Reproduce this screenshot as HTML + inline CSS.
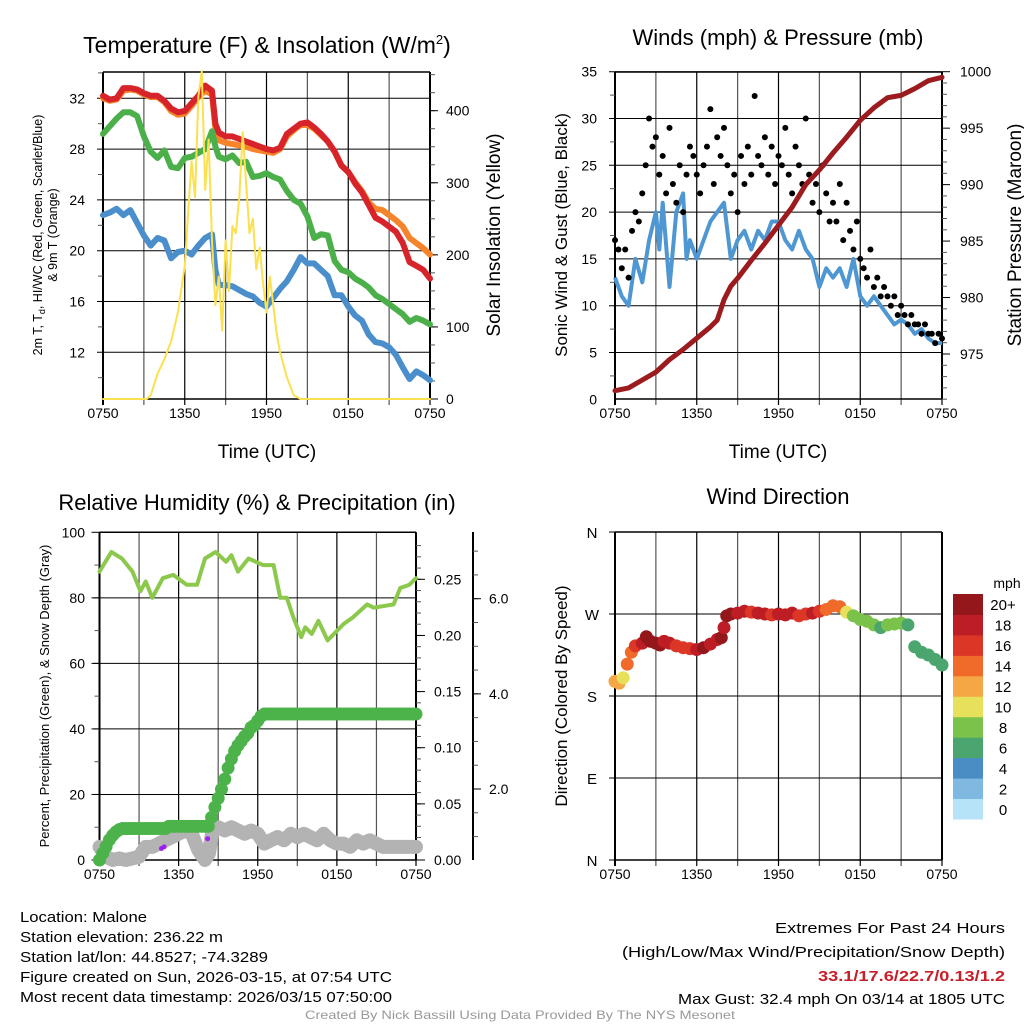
<!DOCTYPE html>
<html><head><meta charset="utf-8"><style>
html,body{margin:0;padding:0;background:#fff;}
svg{display:block;font-family:"Liberation Sans",sans-serif;}
</style></head><body>
<svg id="c" width="1024" height="1024" viewBox="0 0 1024 1024" xmlns="http://www.w3.org/2000/svg">
<rect width="1024" height="1024" fill="#fff"/>
<g id="p1"></g>
<g id="p2"></g>
<g id="p3"></g>
<g id="p4"></g>
<g font-size="15" fill="#000">
<text x="20" y="922" textLength="127" lengthAdjust="spacingAndGlyphs">Location: Malone</text>
<text x="20" y="942" textLength="203" lengthAdjust="spacingAndGlyphs">Station elevation: 236.22 m</text>
<text x="20" y="962" textLength="248" lengthAdjust="spacingAndGlyphs">Station lat/lon: 44.8527; -74.3289</text>
<text x="20" y="982" textLength="372" lengthAdjust="spacingAndGlyphs">Figure created on Sun, 2026-03-15, at 07:54 UTC</text>
<text x="20" y="1002" textLength="372" lengthAdjust="spacingAndGlyphs">Most recent data timestamp: 2026/03/15 07:50:00</text>
</g>
<g font-size="15" fill="#000">
<text x="775" y="933" textLength="230" lengthAdjust="spacingAndGlyphs">Extremes For Past 24 Hours</text>
<text x="622" y="957" textLength="383" lengthAdjust="spacingAndGlyphs">(High/Low/Max Wind/Precipitation/Snow Depth)</text>
<text x="818" y="981" textLength="187" lengthAdjust="spacingAndGlyphs" fill="#c8202a" font-weight="bold">33.1/17.6/22.7/0.13/1.2</text>
<text x="678" y="1004" textLength="327" lengthAdjust="spacingAndGlyphs">Max Gust: 32.4 mph On 03/14 at 1805 UTC</text>
</g>
<text x="305" y="1019" font-size="12" fill="#999" textLength="430" lengthAdjust="spacingAndGlyphs">Created By Nick Bassill Using Data Provided By The NYS Mesonet</text>
</svg>
<script>
// ---------- data ----------
const tempTimes = [0,0.5,1,1.5,2,2.5,3,3.5,4,4.5,5,5.5,6,6.5,7,7.5,8,8.25,8.5,9,9.5,10,10.5,11,11.5,12,12.5,13,13.5,14,14.5,15,15.5,16,16.5,17,17.5,18,18.5,19,19.5,20,20.5,21,21.5,22,22.5,23,23.5,24];
const tempRed = [32.2,31.9,32.0,32.8,32.8,32.7,32.4,32.2,32.2,31.8,31.2,30.9,31.0,31.6,32.2,33.0,32.6,30.0,29.3,29.0,29.0,28.8,28.6,28.4,28.2,28.0,27.9,28.1,29.2,29.6,30.0,30.1,29.7,29.2,28.6,27.8,26.7,26.2,25.3,24.6,23.6,22.6,22.3,21.9,21.5,20.6,19.1,18.8,18.5,17.8];
const tempOrange = [32.0,31.8,31.9,32.6,32.7,32.6,32.3,32.1,32.1,31.7,31.0,30.7,30.8,31.4,32.1,32.6,32.3,29.6,28.7,28.5,28.4,28.3,28.2,28.0,27.9,27.8,27.7,28.0,29.0,29.5,29.9,29.9,29.6,29.1,28.6,27.8,26.7,26.2,25.4,24.7,23.8,23.3,23.2,22.8,22.4,21.9,21.0,20.6,20.2,19.7];
const tempGreen = [29.2,29.8,30.4,30.9,30.9,30.6,29.0,27.8,27.3,27.9,26.6,26.5,27.3,27.4,27.7,28.0,29.4,28.2,27.4,27.2,27.5,26.9,27.0,25.8,25.9,26.1,25.8,25.6,24.7,24.0,23.7,22.7,21.0,21.3,21.2,19.2,18.5,18.3,17.8,17.5,17.1,16.5,16.2,15.8,15.4,15.0,14.4,14.7,14.5,14.2];
const tempBlue = [22.8,23.0,23.3,22.8,23.2,22.2,21.2,20.4,21.0,20.8,19.4,19.9,20.0,19.7,20.4,21.0,21.3,18.5,17.3,17.3,17.2,16.9,16.6,16.4,15.9,15.6,16.3,17.0,17.6,18.5,19.5,19.0,19.0,18.5,18.0,16.5,16.5,15.6,14.9,14.5,13.4,12.8,12.7,12.4,11.8,10.8,9.9,10.5,10.2,9.8];
const solarTimes = [0,3.2,3.5,4,4.5,5,5.5,6,6.25,6.5,6.75,7,7.25,7.5,7.75,8,8.25,8.5,8.75,9,9.25,9.5,9.75,10,10.25,10.5,10.75,11,11.25,11.5,11.75,12,12.25,12.5,12.75,13,13.5,14,14.5,24];
const solarVals = [0,0,5,35,55,80,120,185,260,330,280,420,455,290,360,220,130,170,95,220,150,240,230,280,370,300,230,250,180,210,160,120,170,130,90,65,30,5,0,0];
const tempTicks = [12,16,20,24,28,32];
const solarTicks = [0,100,200,300,400];
const timeLabels = ["0750","1350","1950","0150","0750"];

const windTimes = [0,0.5,1,1.5,2,2.5,3,3.25,3.5,4,4.5,5,5.25,5.5,6,6.5,7,7.5,8,8.5,9,9.5,10,10.5,11,11.5,12,12.5,13,13.5,14,14.5,15,15.5,16,16.5,17,17.5,18,18.5,19,19.5,20,20.5,21,21.5,22,22.5,23,23.5,24];
const windVals = [13,11,10,15,12.5,17,20,16,21,12,20,22,15,17,15,17,19,20,21,15,17,18,16,18,17,19,19,17,16,18,16,15,12,14,13,14,12,15,11,10,11,10,9,8,8.5,8,7,7.5,6.5,6,6];
const gustVals = [17,16,14,16,13,18,20,19,22, 25,30,27,28,24,26,22,29, 23,21,25,20,24,27,26,24, 22,25,27,31,23,28,26,29, 25,22,24,20,26,23,27,24, 32.4,26,25,28,24,27,23,26, 25,29,24,22,27,25,23,30, 24,21,23,20,25,22,19,21, 19,23,17,21,18,16,19,15, 14,13,16,12,13,11,12,11, 10,11,9,10,9,8,9,8, 8,7,8,7,7,6,7,6.5];
const presTimes = [0,1,2,3,4,5,6,7,7.5,8,8.5,9,10,11,12,13,14,15,16,17,18,19,20,21,22,23,24];
const presVals = [971.75,972.0,972.7,973.4,974.5,975.4,976.4,977.4,978.0,979.8,981.0,981.7,983.3,984.8,986.4,988.0,990.0,991.3,992.8,994.2,995.7,996.8,997.7,997.9,998.5,999.2,999.5];
const windTicks = [0,5,10,15,20,25,30,35];
const presTicks = [975,980,985,990,995,1000];

const rhTimes = [0,0.9,1.7,2.5,3.1,3.5,4.0,4.8,5.6,6.6,7.4,8.0,8.8,9.6,10.0,10.5,11.3,12.4,13.2,13.7,14.2,14.7,15.3,15.6,16.1,16.6,17.3,18.5,19.2,20.3,20.8,22.3,22.8,23.5,24];
const rhVals = [88,94,92,88,82,85,80,86,87,84,84,92,94,91,93,88,92,90,90,80,80,74,68,71,69,73,67,72,74,78,77,78,83,84,86];
const precipTimes = [0,0.25,0.5,0.75,1,1.25,1.5,1.75,2,2.25,2.5,2.75,3,3.25,3.5,3.75,4,4.25,4.5,4.75,5,5.25,5.5,5.75,6,6.25,6.5,6.75,7,7.25,7.5,7.75,8,8.25,8.5,8.75,9,9.25,9.5,9.75,10,10.25,10.5,10.75,11,11.25,11.5,11.75,12,12.25,12.5,12.75,13,13.25,13.5,13.75,14,14.25,14.5,14.75,15,15.25,15.5,15.75,16,16.25,16.5,16.75,17,17.25,17.5,17.75,18,18.25,18.5,18.75,19,19.25,19.5,19.75,20,20.25,20.5,20.75,21,21.25,21.5,21.75,22,22.25,22.5,22.75,23,23.25,23.5,23.75,24];
const precipVals = [0,0.006,0.012,0.018,0.022,0.025,0.027,0.028,0.028,0.028,0.028,0.028,0.028,0.028,0.028,0.028,0.028,0.028,0.028,0.028,0.028,0.030,0.030,0.030,0.030,0.030,0.030,0.030,0.030,0.030,0.030,0.030,0.030,0.030,0.038,0.047,0.055,0.063,0.072,0.082,0.090,0.097,0.102,0.106,0.110,0.113,0.118,0.120,0.124,0.128,0.130,0.130,0.130,0.130,0.130,0.130,0.130,0.130,0.130,0.130,0.130,0.130,0.130,0.130,0.130,0.130,0.130,0.130,0.130,0.130,0.130,0.130,0.130,0.130,0.130,0.130,0.130,0.130,0.130,0.130,0.130,0.130,0.130,0.130,0.130,0.130,0.130,0.130,0.130,0.130,0.130,0.130,0.130,0.130,0.130,0.130,0.130];
const snowTimes = [0,0.5,1,1.5,2,2.5,3,3.5,4,4.5,5,5.5,6,6.5,7,7.5,8,8.3,8.6,9,9.5,10,10.5,11,11.5,12,12.5,13,13.5,14,14.5,15,15.5,16,16.5,17,17.5,18,18.5,19,19.5,20,20.5,21,21.5,22,22.5,23,23.5,24];
const snowVals = [4,1,0,0.5,0,0.5,1,4,4,5,6,7,8,9,8,3,0,2,10,10,9,10,9,8,9,8,5,6,7,6,8,7,8,7,6,8,6,5,5,4,6,5,6,5,4,4,4,4,4,4];
const purpleTimes = [4.7,4.9,8.2];
const purpleVals = [3.5,4,6.5];
const rhTicks = [0,20,40,60,80,100];
const precipTicks = [0,0.05,0.10,0.15,0.20,0.25];
const snowTicks = [2,4,6];

const dirTimes = [0,0.3,0.6,0.9,1.2,1.5,2,2.3,2.6,3,3.3,3.6,4,4.5,5,5.5,6,6.5,7,7.5,7.8,8,8.2,8.5,9,9.5,10,10.5,11,11.5,12,12.5,13,13.5,14,14.5,15,15.5,16,16.5,17,17.5,18,18.5,19,19.5,20,20.5,21,21.5,22,22.5,23,23.5,24];
const dirVals = [196,194,200,215,228,235,238,245,240,238,236,240,238,235,233,232,231,233,237,242,244,255,268,270,271,273,272,271,270,269,270,269,271,268,270,271,273,275,279,278,272,268,264,262,258,255,258,259,260,258,234,228,225,220,214];
const dirSpeeds = [12,12,10,14,15,16,19,21,20,20,21,18,19,17,17,16,18,21,19,19,20,18,21,20,18,19,17,19,18,17,19,18,18,17,17,18,16,15,15,14,10,9,9,8,8,7,8,8,8,7,6,6,6,6,6];
const dirTicks = ["N","E","S","W","N"];
const cbLabels = ["0","2","4","6","8","10","12","14","16","18","20+"];
const cbColors = ["#b6e3f7","#7fb9e1","#4a8cc4","#4aa56f","#7bc24a","#e6e05a","#f5a745","#f06a2a","#dc3627","#bd1d24","#93171b"];

// ---------- helpers ----------
const NS="http://www.w3.org/2000/svg";
function mk(parent,tag,attrs,txt){const e=document.createElementNS(NS,tag);for(const k in attrs)e.setAttribute(k,attrs[k]);if(txt!==undefined)e.textContent=txt;parent.appendChild(e);return e;}
function lin(d0,d1,r0,r1){return v=>r0+(v-d0)*(r1-r0)/(d1-d0);}
function pts(ts,vs,sx,sy){return ts.map((t,i)=>sx(t).toFixed(1)+","+sy(vs[i]).toFixed(1)).join(" ");}

function frame(g,x0,x1,y0,y1,hGrid){
  for(let h=0;h<=24;h+=3){const x=x0+(x1-x0)*h/24;
    const l=mk(g,'line',{x1:x,x2:x,y1:y0,y2:y1+6,stroke:(h%6?'#555':'#000'),'stroke-width':h===0?2:1.2});
    }
  hGrid.forEach(y=>{const l=mk(g,'line',{x1:x0-6,x2:x1,y1:y,y2:y,stroke:'#000','stroke-width':1});
    });
  timeLabels.forEach((s,i)=>{const x=x0+(x1-x0)*i/4;
    const t=mk(g,'text',{x:x,y:y1+19,'font-size':14,'text-anchor':'middle'},s);
    });
  mk(g,'line',{x1:x0,x2:x0,y1:y0,y2:y1,stroke:'#000','stroke-width':2});
  mk(g,'line',{x1:x1,x2:x1,y1:y0,y2:y1,stroke:'#000','stroke-width':2});
  mk(g,'line',{x1:x0,x2:x1,y1:y0,y2:y0,stroke:'#000','stroke-width':1.5});
  mk(g,'line',{x1:x0,x2:x1,y1:y1,y2:y1,stroke:'#000','stroke-width':1.5});
}
function minor(g,x,ys,dir){ys.forEach(y=>mk(g,'line',{x1:x,x2:x+dir*5,y1:y,y2:y,stroke:'#555','stroke-width':1}));}
function label(g,x,y,s,size,rot,name,anchor){const t=mk(g,'text',{x:x,y:y,'font-size':size,'text-anchor':anchor||'middle',transform:rot?`rotate(-90 ${x} ${y})`:''},s);
  return t;}

// ---------- panel 1 ----------
(function(){
  const g=document.getElementById('p1');
  const X0=103,X1=430,Y0=72,Y1=399;
  const sx=lin(0,24,X0,X1), sy=lin(12,32,352.3,98.3), ss=lin(0,400,399,110.7);
  frame(g,X0,X1,Y0,Y1,tempTicks.map(sy));
  const mt=[];for(let v=10;v<=34;v+=2)if(v%4)mt.push(sy(v));minor(g,X0,mt,-1);
  const ms=[];for(let v=0;v<=450;v+=25)ms.push(ss(v));minor(g,X1,ms,1);
  tempTicks.forEach(v=>{label(g,85,sy(v)+5,String(v),14,false,'y-tick-label','end');});
  solarTicks.forEach(v=>{mk(g,'line',{x1:X1,x2:X1+8,y1:ss(v),y2:ss(v),stroke:'#000'});label(g,446,ss(v)+5,String(v),14,false,'y2-tick-label','start');});
  const series=[['solar',solarTimes,solarVals,ss,'#fbe04f',2],['temp-9m-orange',tempTimes,tempOrange,sy,'#f5842a',6],['temp-2m-red',tempTimes,tempRed,sy,'#d7242b',6],['dewpoint-green',tempTimes,tempGreen,sy,'#4cb04a',6],['heat-index-blue',tempTimes,tempBlue,sy,'#4a8fcb',6]];
  [1,2,3,4,0].forEach(i=>{const s=series[i];
    const p=mk(g,'polyline',{points:pts(s[1],s[2],sx,s[3]),fill:'none',stroke:s[4],'stroke-width':s[5],'stroke-linejoin':'round','stroke-linecap':'round'});
    });
  const tt=label(g,267,53,'',23,false,'chart-title');tt.innerHTML='Temperature (F) &amp; Insolation (W/m<tspan dy="-9" font-size="13">2</tspan><tspan dy="9">)</tspan>';
  const yl=mk(g,'text',{'font-size':12.5,'text-anchor':'middle',transform:'translate(42,235) rotate(-90)'});
  
  yl.innerHTML='<tspan x="0" y="0">2m T, T<tspan font-size="9" dy="3">d</tspan><tspan dy="-3">, HI/WC (Red, Green, Scarlet/Blue)</tspan></tspan><tspan x="0" y="15">&amp; 9m T (Orange)</tspan>';
  label(g,500,235,'Solar Insolation (Yellow)',19,true,'y2-axis-title');
  label(g,267,458,'Time (UTC)',19,false,'x-axis-title');
})();

// ---------- panel 2 ----------
(function(){
  const g=document.getElementById('p2');
  const X0=615,X1=942,Y0=72,Y1=399;
  const sx=lin(0,24,X0,X1), sw=lin(0,35,399.3,71.7), sp=lin(975,1000,354,71.7);
  frame(g,X0,X1,Y0,Y1,windTicks.map(sw).slice(1));
  const mw=[];for(let v=0;v<=35;v+=2.5)if(v%5)mw.push(sw(v));minor(g,X0,mw,-1);
  const mp=[];for(let v=971;v<=1000;v+=1)if(v%5)mp.push(sp(v));minor(g,X1,mp,1);
  windTicks.forEach(v=>label(g,597,sw(v)+5,String(v),14,false,'y-tick-label','end'));
  presTicks.forEach(v=>{mk(g,'line',{x1:X1,x2:X1+8,y1:sp(v),y2:sp(v),stroke:'#000'});label(g,960,sp(v)+5,String(v),14,false,'y2-tick-label','start');});
  const bl=mk(g,'polyline',{points:pts(windTimes,windVals,sx,sw),fill:'none',stroke:'#4f97d2','stroke-width':4,'stroke-linejoin':'round'});
  
  gustVals.forEach((v,i)=>{const c=mk(g,'circle',{cx:sx(i*0.25),cy:sw(v),r:3,fill:'#000'});
    });
  const pl=mk(g,'polyline',{points:pts(presTimes,presVals,sx,sp),fill:'none',stroke:'#9b1b1e','stroke-width':5,'stroke-linejoin':'round','stroke-linecap':'round'});
  
  label(g,778,45,'Winds (mph) & Pressure (mb)',22,false,'chart-title');
  label(g,567,235,'Sonic Wind & Gust (Blue, Black)',17,true,'y-axis-title');
  label(g,1021,235,'Station Pressure (Maroon)',19,true,'y2-axis-title');
  label(g,778,458,'Time (UTC)',19,false,'x-axis-title');
})();

// ---------- panel 3 ----------
(function(){
  const g=document.getElementById('p3');
  const X0=99.5,X1=416,Y0=532.3,Y1=860;
  const sx=lin(0,24,X0,X1), sr=lin(0,100,860,532.3), sp=lin(0,0.25,860,579.3), sn=lin(2,6,789,598.7);
  frame(g,X0,X1,Y0,Y1,rhTicks.map(sr).slice(1,5));
  const mr=[];for(let v=10;v<=90;v+=20)mr.push(sr(v));minor(g,X0,mr,-1);
  rhTicks.forEach(v=>{mk(g,'line',{x1:X0-8,x2:X0,y1:sr(v),y2:sr(v),stroke:'#000'});label(g,85,sr(v)+5,String(v),14,false,'y-tick-label','end');});
  const mp=[];for(let v=0;v<=0.29;v+=0.01)mp.push(sp(v));minor(g,X1,mp,1);
  precipTicks.forEach(v=>{mk(g,'line',{x1:X1,x2:X1+9,y1:sp(v),y2:sp(v),stroke:'#000'});label(g,434,sp(v)+5,v.toFixed(2),14,false,'precip-tick-label','start');});
  mk(g,'line',{x1:473,x2:473,y1:532,y2:860,stroke:'#000','stroke-width':2});
  const mn=[];for(let v=1;v<=7;v+=0.5)mn.push(sn(v));minor(g,473,mn,1);
  snowTicks.forEach(v=>{mk(g,'line',{x1:473,x2:481,y1:sn(v),y2:sn(v),stroke:'#000'});label(g,489,sn(v)+5,v.toFixed(1),14,false,'snow-tick-label','start');});
  const sg=mk(g,'polyline',{points:pts(snowTimes,snowVals,sx,sr),fill:'none',stroke:'#b3b3b3','stroke-width':14,'stroke-linejoin':'round','stroke-linecap':'round'});
  
  purpleTimes.forEach((t,i)=>{const c=mk(g,'circle',{cx:sx(t),cy:sr(purpleVals[i]),r:2.5,fill:'#a020f0'});
    });
  precipTimes.forEach((t,i)=>{const c=mk(g,'circle',{cx:sx(t),cy:sp(precipVals[i]),r:6.5,fill:'#4cb34a'});
    });
  const rl=mk(g,'polyline',{points:pts(rhTimes,rhVals,sx,sr),fill:'none',stroke:'#8cc84b','stroke-width':4,'stroke-linejoin':'round','stroke-linecap':'round'});
  
  label(g,257,510,'Relative Humidity (%) & Precipitation (in)',22,false,'chart-title');
  label(g,49,696,'Percent, Precipitation (Green), & Snow Depth (Gray)',13,true,'y-axis-title');
})();

// ---------- panel 4 ----------
(function(){
  const g=document.getElementById('p4');
  const X0=615,X1=942,Y0=532,Y1=860;
  const sx=lin(0,24,X0,X1), sd=lin(0,360,860,532);
  frame(g,X0,X1,Y0,Y1,[0,90,180,270,360].map(sd));
  dirTicks.forEach((s,i)=>label(g,592,sd(i*90)+6,s,15,false,'y-tick-label','middle'));
  function col(s){let b=Math.floor(s/2);if(b>10)b=10;if(b<0)b=0;return cbColors[b];}
  dirTimes.forEach((t,i)=>{const c=mk(g,'circle',{cx:sx(t),cy:sd(dirVals[i]),r:6.5,fill:col(dirSpeeds[i])});
    });
  const cb=mk(g,'g',{});
  const bh=(819-594)/11;
  cbColors.forEach((c,i)=>{const y=819-(i+1)*bh;
    const r=mk(cb,'rect',{x:953,y:y,width:30,height:bh+0.5,fill:c});
    
    label(cb,1003,y+bh/2+6,cbLabels[i],15,false,'legend-label','middle');});
  label(cb,1007,588,'mph',14,false,'legend-title','middle');
  label(g,778,504,'Wind Direction',22,false,'chart-title');
  label(g,567,696,'Direction (Colored By Speed)',17,true,'y-axis-title');
})();
</script>
</body></html>
